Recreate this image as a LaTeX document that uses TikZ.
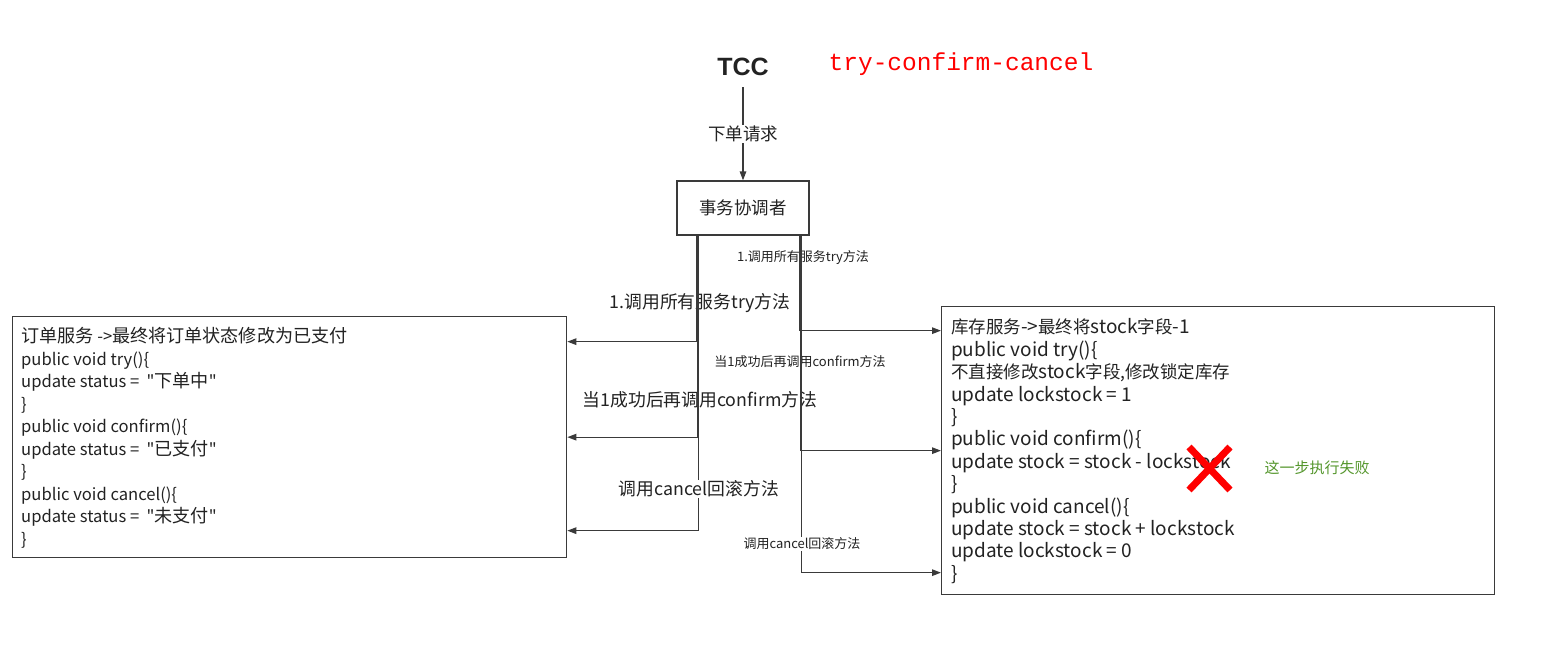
\documentclass[tikz,border=0pt]{standalone}
\usepackage{fontspec}
\setmainfont{Noto Sans CJK SC}[Ligatures=TeXOff]
\newfontfamily\zhL{Noto Sans CJK SC}[Scale=1.09,Ligatures=TeXOff]
\newfontfamily\zhR{Noto Sans CJK SC}[Scale=0.92,Ligatures=TeXOff]
\newfontfamily\monofont{Liberation Mono}
\newfontfamily\headfont{Liberation Sans}
\newcommand\zl[1]{{\zhL #1}}
\newcommand\zr[1]{{\zhR #1}}
\usetikzlibrary{arrows.meta}
\definecolor{linec}{HTML}{3A3A3A}
\definecolor{textc}{HTML}{222222}
\definecolor{failgreen}{RGB}{84,150,44}
\begin{document}
\begin{tikzpicture}[x=1pt,y=-1pt,
  line/.style={draw=linec, line width=1.3pt},
  arr/.style={line, -{Triangle[length=9pt,width=6.5pt]}},
  box/.style={draw=linec, line width=1.3pt, fill=white},
  codetext/.style={text=textc, align=left, inner sep=0pt, anchor=north west},
  biglabel/.style={text=textc, font=\fontsize{17.8}{20}\selectfont, inner sep=1pt},
  smalllabel/.style={text=textc, font=\fontsize{13}{15}\selectfont, inner sep=1pt}
]
\fill[white] (0,0) rectangle (1557,657);
\useasboundingbox (0,0) rectangle (1557,657);

% title
\node[font=\headfont\bfseries\fontsize{25}{30}\selectfont, text=textc] (tcc) at (743,67) {TCC};
\node[font=\monofont\fontsize{24.5}{28}\selectfont, text=red] (tcctitle) at (961,64) {try-confirm-cancel};

% coordinator
\node[box, minimum width=132pt, minimum height=54pt, text=textc,
      font=\fontsize{17.5}{20}\selectfont] (coord) at (743,208) {事务协调者};
\draw[arr] ([yshift=-8pt]tcc.south) -- (coord.north)
  node[midway, fill=white, biglabel, font=\fontsize{17.5}{20}\selectfont] (req) {下单请求};

% service boxes
\node[box, minimum width=554pt, minimum height=241pt, anchor=north west] (order) at (12,316) {};
\node[box, minimum width=553pt, minimum height=288pt, anchor=north west] (stock) at (941,306) {};

\node[codetext, font=\fontsize{16.6}{22.5}\selectfont] (ordertext) at (21,327.5) {%
\zl{订单服务} ->\zl{最终将订单状态修改为已支付}\\
public void try()\{\\
update status = \ "\zl{下单中}"\\
\}\\
public void confirm()\{\\
update status = \ "\zl{已支付}"\\
\}\\
public void cancel()\{\\
update status = \ "\zl{未支付}"\\
\}};

\node[codetext, font=\fontsize{19}{22.4}\selectfont] (stocktext) at (951,318.5) {%
\zr{库存服务}->\zr{最终将}stock\zr{字段}-1\\
public void try()\{\\
\zr{不直接修改}stock\zr{字段,修改锁定库存}\\
update lockstock = 1\\
\}\\
public void confirm()\{\\
update stock = stock - lockstock\\
\}\\
public void cancel()\{\\
update stock = stock + lockstock\\
update lockstock = 0\\
\}};

% labels (lines drawn over them)
\node[biglabel] (ltry) at (700,303) {1.调用所有服务try方法};
\node[biglabel] (lconfirm) at (700,400) {当1成功后再调用confirm方法};
\node[smalllabel] (rtry) at (803,258) {1.调用所有服务try方法};
\node[smalllabel] (rconfirm) at (800,362) {当1成功后再调用confirm方法};

% connectors to order service
\draw[arr] ([xshift=-46pt]coord.south) |- ([yshift=95.5pt]order.east);
\draw[arr] ([xshift=-45pt]coord.south) |- (order.east);
\draw[arr] ([xshift=-44.6pt]coord.south) |- ([yshift=-93.5pt]order.east);

% connectors to stock service
\draw[arr] ([xshift=57pt]coord.south) |- ([yshift=120pt]stock.west);
\draw[arr] ([xshift=57.8pt]coord.south) |- (stock.west);
\draw[arr] ([xshift=58.2pt]coord.south) |- ([yshift=-122pt]stock.west);

% labels with white background
\node[biglabel, fill=white] (lcancel) at (699,489) {调用cancel回滚方法};
\node[smalllabel, fill=white] (rcancel) at (802,544) {调用cancel回滚方法};

% failure mark
\draw[red, line width=7pt] (1189,447) -- (1230,490);
\draw[red, line width=7pt] (1230,447) -- (1189,490);
\node[text=failgreen, font=\fontsize{15}{18}\selectfont] (fail) at (1317,468) {这一步执行失败};
\end{tikzpicture}
\end{document}
